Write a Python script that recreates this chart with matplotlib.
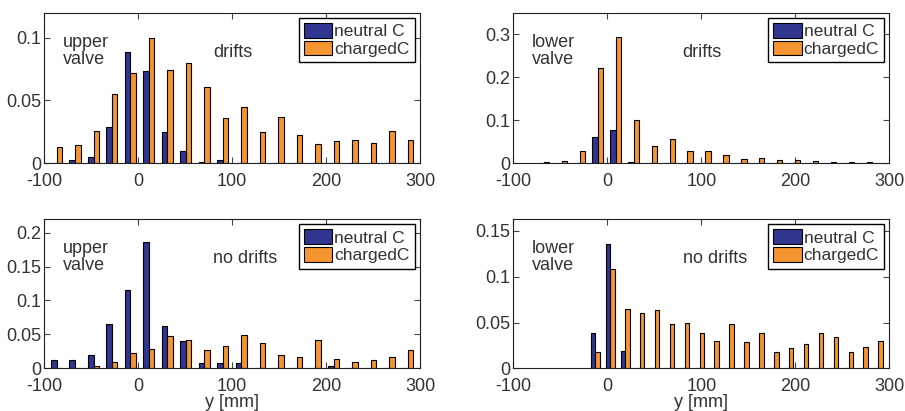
import matplotlib
matplotlib.use("Agg")
import matplotlib.pyplot as plt
from matplotlib.ticker import FuncFormatter

plt.rcParams['font.family'] = ['Liberation Sans', 'DejaVu Sans']
plt.rcParams['axes.unicode_minus'] = False

TEXT = '#333333'
BLUE = '#30358f'
ORANGE = '#f4952f'

# histogram bin centres [mm]
upper_bins = [-87.0, -67.3, -47.6, -28.0, -8.3, 11.4, 31.1, 50.8, 70.4, 90.1,
              109.8, 129.5, 149.2, 168.8, 188.5, 208.2, 227.9, 247.6, 267.2, 286.9]
lower_drift_bins = [-67.3, -48.2, -29.2, -10.1, 9.0, 28.1, 47.1, 66.2, 85.3, 104.3,
                    123.4, 142.5, 161.5, 180.6, 199.7, 218.7, 237.8, 256.9, 275.9]
lower_nodrift_bins = [-12.8, 3.1, 18.9, 34.8, 50.6, 66.5, 82.3, 98.2, 114.0, 129.9,
                      145.7, 161.6, 177.4, 193.3, 209.1, 225.0, 240.8, 256.7, 272.5, 288.4]

# upper valve, drifts
upper_drift_neutral = [0, 0.0027, 0.0045, 0.0285, 0.0886, 0.0734, 0.0247, 0.0096, 0.001, 0.0027,
                       0, 0, 0, 0, 0, 0, 0, 0, 0, 0]
upper_drift_charged = [0.0128, 0.0141, 0.0253, 0.0553, 0.0721, 0.100, 0.0742, 0.080, 0.0606, 0.0356,
                       0.0447, 0.025, 0.0364, 0.0223, 0.0154, 0.0173, 0.0186, 0.0157, 0.0253, 0.0186]

# lower valve, drifts
lower_drift_neutral = [0, 0, 0, 0.060, 0.0766, 0.0015, 0, 0, 0, 0,
                       0, 0, 0, 0, 0, 0, 0, 0, 0]
lower_drift_charged = [0.003, 0.0055, 0.027, 0.222, 0.294, 0.100, 0.039, 0.056, 0.029, 0.028,
                       0.0195, 0.0094, 0.0117, 0.007, 0.0078, 0.004, 0.0023, 0.0015, 0.0015]

# upper valve, no drifts
upper_nodrift_neutral = [0.0124, 0.0124, 0.0199, 0.0655, 0.115, 0.186, 0.063, 0.0407, 0.0079, 0.0079,
                         0.0079, 0, 0, 0, 0, 0.004, 0, 0, 0, 0]
upper_nodrift_charged = [0, 0, 0.003, 0.0099, 0.0223, 0.0278, 0.048, 0.0417, 0.0268, 0.0323,
                         0.0496, 0.0377, 0.0199, 0.0169, 0.0412, 0.0134, 0.0099, 0.0119, 0.0169, 0.0273]

# lower valve, no drifts
lower_nodrift_neutral = [0.0389, 0.136, 0.0189, 0, 0, 0, 0, 0, 0, 0,
                         0, 0, 0, 0, 0, 0, 0, 0, 0, 0]
lower_nodrift_charged = [0.0174, 0.108, 0.065, 0.060, 0.0636, 0.0487, 0.050, 0.0389, 0.0298, 0.048,
                         0.0283, 0.0389, 0.0174, 0.0218, 0.0262, 0.0385, 0.0338, 0.0174, 0.0232, 0.0301]

x_ticks = [-100, 0, 100, 200, 300]
series_labels = ['neutral C', 'chargedC']

panels = [
    dict(bins=upper_bins, neutral=upper_drift_neutral, charged=upper_drift_charged,
         ylim=0.12, yticks=[0, 0.05, 0.1], valve='upper\nvalve', cond='drifts'),
    dict(bins=lower_drift_bins, neutral=lower_drift_neutral, charged=lower_drift_charged,
         ylim=0.35, yticks=[0, 0.1, 0.2, 0.3], valve='lower\nvalve', cond='drifts'),
    dict(bins=upper_bins, neutral=upper_nodrift_neutral, charged=upper_nodrift_charged,
         ylim=0.22, yticks=[0, 0.05, 0.1, 0.15, 0.2], valve='upper\nvalve', cond='no drifts'),
    dict(bins=lower_nodrift_bins, neutral=lower_nodrift_neutral, charged=lower_nodrift_charged,
         ylim=0.163, yticks=[0, 0.05, 0.1, 0.15], valve='lower\nvalve', cond='no drifts'),
]

W, H = 905, 411
fig = plt.figure(figsize=(W / 100, H / 100), dpi=100)

# axes boxes in pixels: left, top, right, bottom
boxes = [(44.3, 12.7, 420.0, 163.0), (513.3, 12.7, 889.3, 163.0),
         (44.3, 219.0, 420.0, 368.3), (513.3, 219.0, 889.3, 368.3)]

fs = 13
lfs = 12.5
for i, (p, (l, t, r, b)) in enumerate(zip(panels, boxes)):
    ax = fig.add_axes([l / W, 1 - b / H, (r - l) / W, (b - t) / H])
    bins = p['bins']
    step = (bins[-1] - bins[0]) / (len(bins) - 1)
    w = 0.3 * step
    xb = [c - w / 2 for c in bins]
    xo = [c + w / 2 for c in bins]
    ax.bar(xb, p['neutral'], width=w, color=BLUE, edgecolor='black', linewidth=0.8,
           label=series_labels[0], zorder=2)
    ax.bar(xo, p['charged'], width=w, color=ORANGE, edgecolor='black', linewidth=0.8,
           label=series_labels[1], zorder=2)
    ax.set_xlim(-100, 300)
    ax.set_ylim(0, p['ylim'])
    ax.set_xticks(x_ticks)
    ax.set_yticks(p['yticks'])
    ax.yaxis.set_major_formatter(FuncFormatter(lambda v, pos: '%g' % v))
    ax.tick_params(direction='in', length=4, width=0.8, top=True, right=True,
                   labelsize=fs, labelcolor=TEXT, color='#444444')
    ax.tick_params(axis='x', pad=7)
    ax.tick_params(axis='y', pad=2)
    for s in ax.spines.values():
        s.set_linewidth(0.8)
        s.set_color('#222222')
    ax.text(0.05, 0.657, p['valve'], transform=ax.transAxes, ha='left', va='baseline',
            fontsize=fs, color=TEXT, linespacing=1.05)
    ax.text(0.45, 0.708, p['cond'], transform=ax.transAxes, ha='left', va='baseline',
            fontsize=fs, color=TEXT)
    leg = ax.legend(loc='upper right', fontsize=lfs, frameon=True, fancybox=False,
                    edgecolor='black', framealpha=1, handlelength=1.65, handleheight=0.92,
                    handletextpad=0.1, labelspacing=0.08, borderpad=0.3, borderaxespad=0.3)
    leg.get_frame().set_linewidth(1.0)
    for txt in leg.get_texts():
        txt.set_color(TEXT)
    if i >= 2:
        ax.set_xlabel('y [mm]', fontsize=fs, color=TEXT, labelpad=-1)

fig.savefig('out.png', dpi=100)
